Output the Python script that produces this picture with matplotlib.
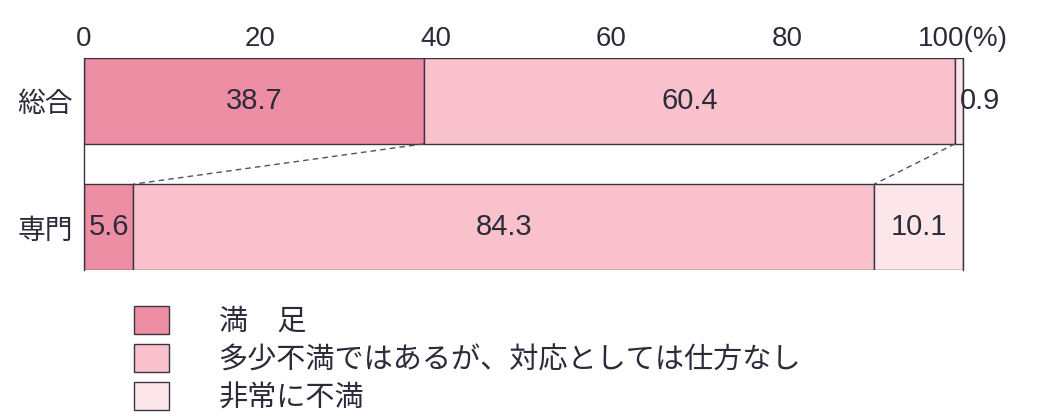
import matplotlib
matplotlib.use("Agg")
import matplotlib.pyplot as plt

plt.rcParams['font.family'] = ['Noto Sans CJK JP', 'DejaVu Sans']

# data
categories = ['総合', '専門']
series_names = ['満　足', '多少不満ではあるが、対応としては仕方なし', '非常に不満']
values = {
    '総合': [38.7, 60.4, 0.9],
    '専門': [5.6, 84.3, 10.1],
}
colors = ['#ee8ea4', '#f8c1cc', '#fde6ea']
xticks = [0, 20, 40, 60, 80, 100]
xtick_labels = ['0', '20', '40', '60', '80', '100(%)']

fig = plt.figure(figsize=(10.46, 4.16), dpi=100)
ax = fig.add_axes([84 / 1046, 1 - 270 / 416, 879 / 1046, 212 / 416])

bar_h = 0.68
ypos = {'総合': 1, '専門': 0}
num_font = dict(family=['Liberation Sans', 'DejaVu Sans'], color='#2b2b3a')

handles = []
for cat in categories:
    left = 0
    for i, v in enumerate(values[cat]):
        b = ax.barh(ypos[cat], v, left=left, height=bar_h, color=colors[i],
                    edgecolor='#3a3340', linewidth=1.0)
        if cat == categories[0]:
            handles.append(b[0])
        if v >= 2:
            ax.text(left + v / 2, ypos[cat], f'{v:.1f}', ha='center', va='center',
                    fontsize=21, **num_font)
        else:
            ax.text(99.6, ypos[cat], f'{v:.1f}', ha='left', va='center',
                    fontsize=21, **num_font)
        left += v

# dashed connectors between the two bars
top_y = ypos['総合'] - bar_h / 2
bot_y = ypos['専門'] + bar_h / 2
c1 = [values['総合'][0], values['総合'][0] + values['総合'][1]]
c2 = [values['専門'][0], values['専門'][0] + values['専門'][1]]
for a, b in zip(c1, c2):
    ax.plot([a, b], [top_y, bot_y], ls=(0, (4, 3)), color='#555060', lw=1.0)

ax.set_xlim(0, 100)
ax.set_ylim(-bar_h / 2, 1 + bar_h / 2)
ax.set_yticks([ypos[c] for c in categories])
ax.set_yticklabels(categories, fontsize=20, color='#2b2b3a')
ax.xaxis.tick_top()
ax.set_xticks(xticks)
ax.set_xticklabels(xtick_labels, fontsize=20, **num_font)
ax.tick_params(length=0, pad=4)
ax.tick_params(axis='y', pad=8)
for s in ['top', 'bottom']:
    ax.spines[s].set_visible(False)
for s in ['left', 'right']:
    ax.spines[s].set_color('#3a3340')
    ax.spines[s].set_linewidth(1.0)
ax.patch.set_alpha(0)

fig.legend(handles, series_names, loc='upper left',
           bbox_to_anchor=(134 / 1046, 1 - 306 / 416), frameon=False,
           fontsize=21, handlelength=1.2, handleheight=1.1,
           handletextpad=1.7, labelspacing=0.25, borderaxespad=0,
           borderpad=0, labelcolor='#2b2b3a')

fig.savefig('out.png', dpi=100)
